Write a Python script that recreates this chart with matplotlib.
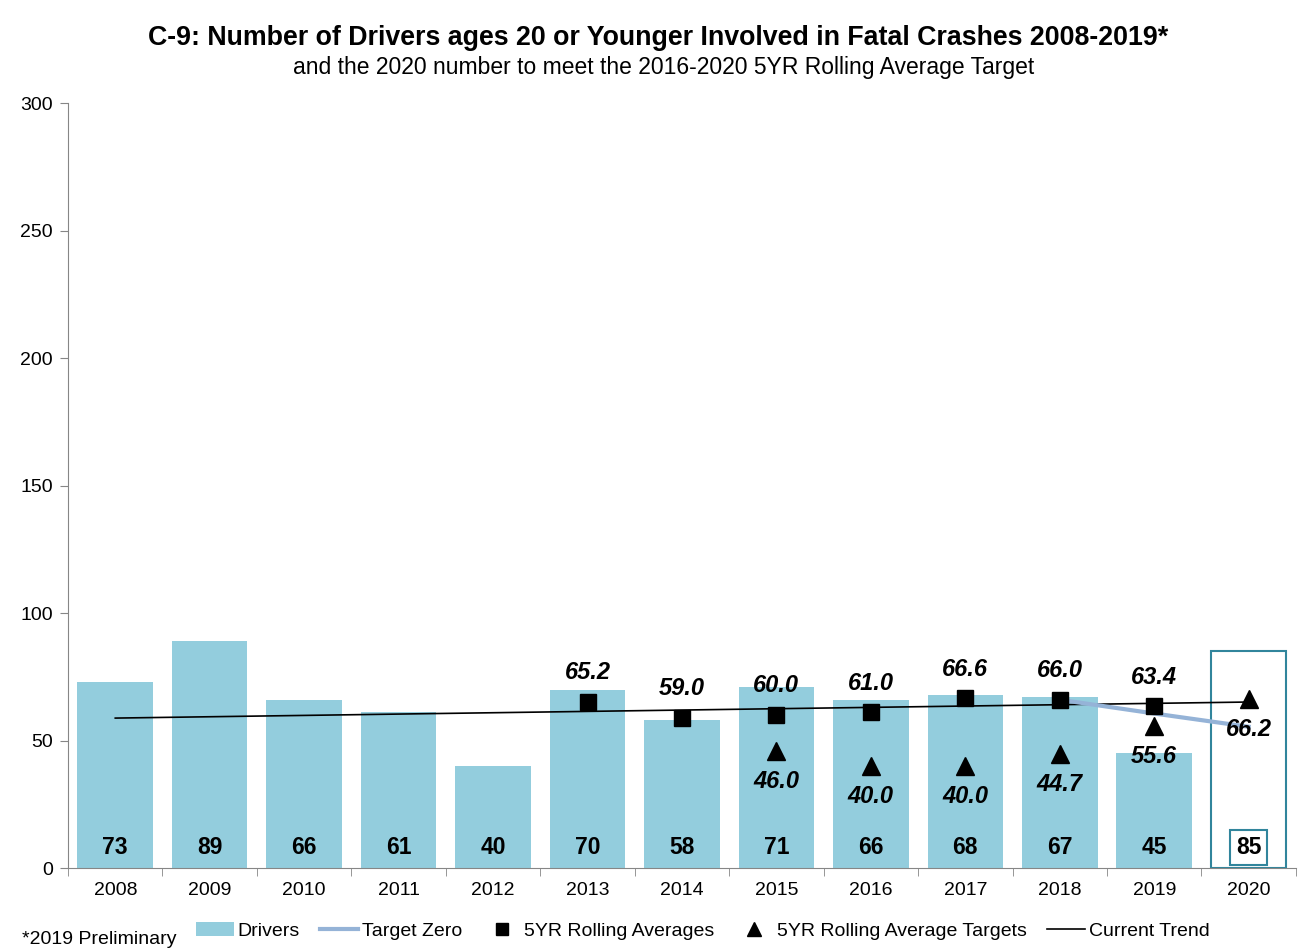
import numpy as np
import matplotlib.pyplot as plt
from matplotlib.lines import Line2D
from matplotlib.patches import Patch

plt.rcParams['font.family'] = ['Liberation Sans', 'DejaVu Sans']

# Data
years = ["2008", "2009", "2010", "2011", "2012", "2013", "2014",
         "2015", "2016", "2017", "2018", "2019", "2020"]
drivers = [73, 89, 66, 61, 40, 70, 58, 71, 66, 68, 67, 45]
target_2020 = 85

avg_years = ["2013", "2014", "2015", "2016", "2017", "2018", "2019"]
rolling_avg = [65.2, 59.0, 60.0, 61.0, 66.6, 66.0, 63.4]

tgt_years = ["2015", "2016", "2017", "2018", "2019", "2020"]
rolling_tgt = [46.0, 40.0, 40.0, 44.7, 55.6, 66.2]

zero_years = ["2018", "2019", "2020"]
target_zero = [66.0, 60.6, 55.4]

trend_years = ["2008", "2020"]
trend_vals = [58.8, 65.1]

bar_color = "#93CDDD"
box_color = "#31859C"
zero_color = "#95B3D7"

fig = plt.figure(figsize=(13.16, 9.52), dpi=100)
ax = fig.add_axes([0.0517, 0.0882, 0.933, 0.8036])

x = np.arange(len(years))
idx = {y: i for i, y in enumerate(years)}

ax.bar(x[:len(drivers)], drivers, 0.8, color=bar_color, zorder=1)
ax.bar(x[-1], target_2020, 0.8, facecolor="none", edgecolor=box_color, linewidth=1.5, zorder=1)

# trend and target zero lines
ax.plot([idx[y] for y in trend_years], trend_vals, color="black", lw=1.2, zorder=2)
ax.plot([idx[y] for y in zero_years], target_zero, color=zero_color, lw=3, zorder=2)

ax.plot([idx[y] for y in avg_years], rolling_avg, ls="none", marker="s", ms=11.5,
        color="black", zorder=3)
ax.plot([idx[y] for y in tgt_years], rolling_tgt, ls="none", marker="^", ms=13,
        color="black", zorder=3)

# value labels
for i, v in enumerate(drivers):
    ax.text(i, 8, str(v), ha="center", va="center", fontsize=16.5, fontweight="bold", zorder=4)
ax.text(x[-1], 8, str(target_2020), ha="center", va="center", fontsize=16.5, fontweight="bold",
        zorder=4, bbox=dict(boxstyle="square,pad=0.25", facecolor="white", edgecolor=box_color, lw=1.5))

for y, v in zip(avg_years, rolling_avg):
    ax.annotate(f"{v:.1f}", (idx[y], v), xytext=(0, 21), textcoords="offset points",
                ha="center", va="center", fontsize=17, fontweight="bold", fontstyle="italic")
for y, v in zip(tgt_years, rolling_tgt):
    ax.annotate(f"{v:.1f}", (idx[y], v), xytext=(0, -22), textcoords="offset points",
                ha="center", va="center", fontsize=17, fontweight="bold", fontstyle="italic")

ax.set_ylim(0, 300)
ax.set_xlim(-0.5, len(years) - 0.5)
ax.set_yticks(range(0, 301, 50))
ax.set_xticks(x)
ax.set_xticklabels(years)
ax.set_xticks(np.arange(-0.5, len(years), 1), minor=True)
ax.tick_params(axis="x", which="major", length=0, labelsize=14, pad=10)
ax.tick_params(axis="x", which="minor", length=6, color="#868686")
ax.tick_params(axis="y", length=6, color="#868686", labelsize=14, pad=5)
for s in ["top", "right"]:
    ax.spines[s].set_visible(False)
for s in ["left", "bottom"]:
    ax.spines[s].set_color("#868686")

fig.text(0.5, 0.96, "C-9: Number of Drivers ages 20 or Younger Involved in Fatal Crashes 2008-2019*",
         ha="center", va="center", fontsize=19.3, fontweight="bold")
fig.text(0.504, 0.929, "and the 2020 number to meet the 2016-2020 5YR Rolling Average Target",
         ha="center", va="center", fontsize=16.5)
fig.text(0.017, 0.013, "*2019 Preliminary", ha="left", va="center", fontsize=14)

handles = [
    Patch(facecolor=bar_color, edgecolor="none"),
    Line2D([], [], color=zero_color, lw=3),
    Line2D([], [], ls="none", marker="s", ms=9, color="black"),
    Line2D([], [], ls="none", marker="^", ms=10, color="black"),
    Line2D([], [], color="black", lw=1.2),
]
labels = ["Drivers", "Target Zero", "5YR Rolling Averages", "5YR Rolling Average Targets", "Current Trend"]
fig.legend(handles, labels, loc="center left", bbox_to_anchor=(0.1354, 0.022), ncol=5, frameon=False,
           fontsize=14, handlelength=1.95, handletextpad=0.2, columnspacing=1.05)

fig.savefig("out.png", dpi=100)
